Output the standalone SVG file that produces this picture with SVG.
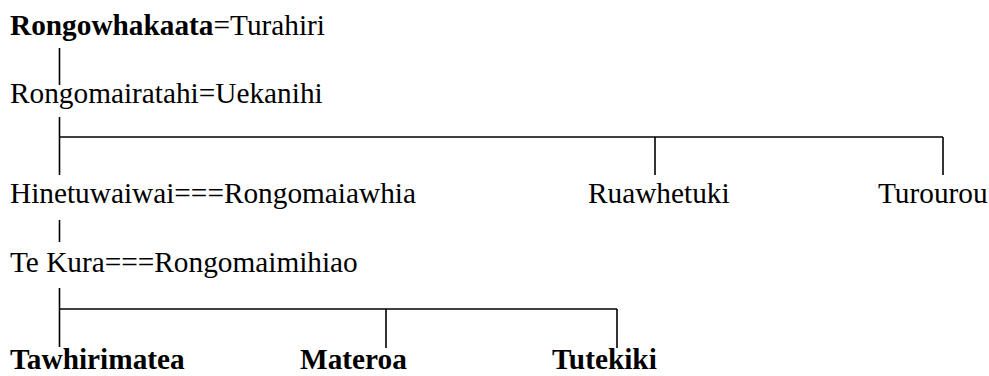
<svg xmlns="http://www.w3.org/2000/svg" width="989" height="376" viewBox="0 0 989 376">
<style>
text{font-family:'Liberation Serif','DejaVu Serif',serif;font-size:29.3px;fill:#000}
.b{font-weight:bold}
.c line{stroke:#000;stroke-width:1.6}
</style>
<rect width="989" height="376" fill="#fff"/>
<g class="c" id="connectors">
<line x1="59.5" y1="48" x2="59.5" y2="85"/>
<line x1="59.5" y1="117" x2="59.5" y2="175"/>
<line x1="59.5" y1="137" x2="943" y2="137"/>
<line x1="655" y1="137" x2="655" y2="175"/>
<line x1="943" y1="137" x2="943" y2="175"/>
<line x1="59.5" y1="220" x2="59.5" y2="242"/>
<line x1="59.5" y1="288" x2="59.5" y2="347"/>
<line x1="59.5" y1="309" x2="617" y2="309"/>
<line x1="386" y1="309" x2="386" y2="348"/>
<line x1="617" y1="309" x2="617" y2="348"/>
</g>
<g id="n1"><text x="10" y="35"><tspan class="b">Rongowhakaata</tspan>=Turahiri</text></g>
<g id="n2"><text x="10" y="103">Rongomairatahi=Uekanihi</text></g>
<g id="n3"><text x="10" y="203">Hinetuwaiwai===Rongomaiawhia</text></g>
<g id="n4"><text x="588" y="203">Ruawhetuki</text></g>
<g id="n5"><text x="878" y="203">Turourou</text></g>
<g id="n6"><text x="10" y="272">Te Kura===Rongomaimihiao</text></g>
<g id="n7"><text class="b" x="10" y="369">Tawhirimatea</text></g>
<g id="n8"><text class="b" x="300" y="369">Materoa</text></g>
<g id="n9"><text class="b" x="552" y="369">Tutekiki</text></g>
</svg>
